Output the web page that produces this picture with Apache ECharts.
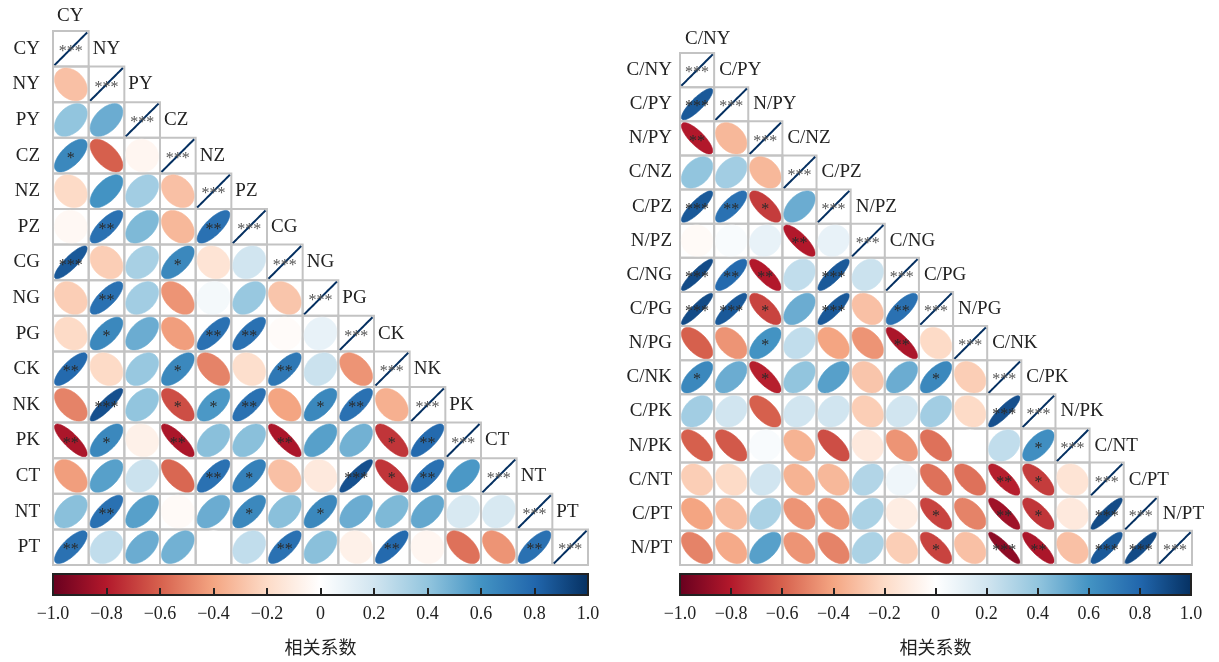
<!DOCTYPE html>
<html><head><meta charset="utf-8">
<script src="https://cdn.jsdelivr.net/npm/echarts@6/dist/echarts.min.js"></script>
<style>html,body{margin:0;padding:0;background:#fff}#c{width:1219px;height:662px}</style>
</head><body><div id="c"></div>
<script>
// ---------- data ----------
const leftVars = ['CY','NY','PY','CZ','NZ','PZ','CG','NG','PG','CK','NK','PK','CT','NT','PT'];
const leftCorr = [
  [1],
  [-0.30, 1],
  [0.40, 0.50, 1],
  [0.65, -0.60, -0.05, 1],
  [-0.20, 0.60, 0.35, -0.30, 1],
  [-0.04, 0.75, 0.45, -0.33, 0.75, 1],
  [0.85, -0.25, 0.33, 0.65, -0.15, 0.20, 1],
  [-0.25, 0.75, 0.35, -0.45, 0.05, 0.38, -0.28, 1],
  [-0.20, 0.65, 0.50, -0.42, 0.75, 0.75, -0.02, 0.10, 1],
  [0.78, -0.20, 0.38, 0.65, -0.50, -0.18, 0.72, 0.22, -0.45, 1],
  [-0.50, 0.88, 0.40, -0.65, 0.58, 0.75, -0.40, 0.65, 0.75, -0.36, 1],
  [-0.82, 0.65, -0.08, -0.82, 0.42, 0.42, -0.82, 0.55, 0.48, -0.72, 0.78, 1],
  [-0.42, 0.55, 0.22, -0.58, 0.75, 0.68, -0.30, -0.12, 0.88, -0.72, 0.75, 0.58, 1],
  [0.42, 0.75, 0.55, -0.03, 0.50, 0.65, 0.42, 0.65, 0.50, 0.45, 0.52, 0.17, 0.17, 1],
  [0.75, 0.25, 0.50, 0.48, 0.00, 0.25, 0.75, 0.42, -0.08, 0.78, -0.05, -0.55, -0.45, 0.75, 1]
];
const leftSig = [
  ['***'],
  ['','***'],
  ['','','***'],
  ['*','','','***'],
  ['','','','','***'],
  ['','**','','','**','***'],
  ['***','','','*','','','***'],
  ['','**','','','','','','***'],
  ['','*','','','**','**','','','***'],
  ['**','','','*','','','**','','','***'],
  ['','***','','*','*','**','','*','**','','***'],
  ['**','*','','**','','','**','','','*','**','***'],
  ['','','','','**','*','','','***','*','**','','***'],
  ['','**','','','','*','','*','','','','','','***'],
  ['**','','','','','','**','','','**','','','','**','***']
];
const rightVars = ['C/NY','C/PY','N/PY','C/NZ','C/PZ','N/PZ','C/NG','C/PG','N/PG','C/NK','C/PK','N/PK','C/NT','C/PT','N/PT'];
const rightCorr = [
  [1],
  [0.85, 1],
  [-0.80, -0.33, 1],
  [0.40, 0.35, -0.33, 1],
  [0.85, 0.75, -0.70, 0.50, 1],
  [-0.03, 0.03, 0.10, -0.80, 0.10, 1],
  [0.90, 0.78, -0.80, 0.25, 0.85, 0.22, 1],
  [0.90, 0.85, -0.68, 0.50, 0.85, -0.30, 0.75, 1],
  [-0.60, -0.45, 0.60, 0.25, -0.40, -0.45, -0.82, -0.20, 1],
  [0.65, 0.50, -0.78, 0.40, 0.55, -0.28, 0.50, 0.65, -0.25, 1],
  [0.35, 0.20, -0.60, 0.20, 0.20, -0.25, 0.20, 0.35, -0.20, 0.88, 1],
  [-0.60, -0.62, 0.03, -0.35, -0.65, -0.12, -0.45, -0.55, 0.00, 0.25, 0.62, 1],
  [-0.25, -0.20, 0.20, -0.35, -0.33, 0.30, 0.07, -0.55, -0.55, -0.78, -0.70, -0.15, 1],
  [-0.40, -0.32, 0.32, -0.45, -0.45, 0.32, -0.10, -0.68, -0.50, -0.85, -0.72, -0.12, 0.90, 1],
  [-0.50, -0.38, 0.55, -0.45, -0.50, 0.32, -0.25, -0.68, -0.30, -0.90, -0.82, -0.30, 0.85, 0.90, 1]
];
const rightSig = [
  ['***'],
  ['***','***'],
  ['**','','***'],
  ['','','','***'],
  ['***','**','*','','***'],
  ['','','','**','','***'],
  ['***','**','**','','***','','***'],
  ['***','***','*','','***','','**','***'],
  ['','','*','','','','**','','***'],
  ['*','','*','','','','','*','','***'],
  ['','','','','','','','','','***','***'],
  ['','','','','','','','','','','*','***'],
  ['','','','','','','','','','**','*','','***'],
  ['','','','','','','','*','','**','*','','***','***'],
  ['','','','','','','','*','','***','**','','***','***','***']
];
const colorbarTicks = [-1, -0.8, -0.6, -0.4, -0.2, 0, 0.2, 0.4, 0.6, 0.8, 1];
const legendName = '相关系数';
const palette = ['#67001F','#B2182B','#D6604D','#F4A582','#FDDBC7','#FFFFFF','#D1E5F0','#92C5DE','#4393C3','#2166AC','#053061'];

// ---------- build ----------
function flatten(corr, sig){
  const cells = [], stars = [];
  corr.forEach((row, i) => row.forEach((v, j) => { cells.push([j, i, v]); stars.push(sig[i][j]); }));
  return {cells, stars};
}
const L = flatten(leftCorr, leftSig);
const R = flatten(rightCorr, rightSig);
const SERIF = 'Liberation Serif, Times New Roman, serif';

function makeRender(vars, stars, headerOffset){
  return function(params, api){
    const col = api.value(0), row = api.value(1), r = api.value(2);
    const c = api.coord([col, row]);
    const s = api.size([1, 1]);
    const w = s[0], h = s[1];
    const rad = 0.46 * Math.min(w, h);
    const color = api.visual('color');
    const d = Math.acos(Math.max(-1, Math.min(1, r)));
    const pts = [];
    const N = 72;
    for (let k = 0; k < N; k++) {
      const t = 2 * Math.PI * k / N;
      pts.push([c[0] + Math.cos(t + d / 2) * rad, c[1] - Math.cos(t - d / 2) * rad]);
    }
    const diag = col === row;
    const children = [
      {type: 'rect', shape: {x: c[0] - w / 2, y: c[1] - h / 2, width: w, height: h},
       style: {fill: 'none', stroke: '#C3C3C3', lineWidth: 2}},
      {type: 'polygon', shape: {points: pts},
       style: {fill: color, stroke: color, lineWidth: diag ? 2 : 0.6}}
    ];
    const st = stars[params.dataIndex];
    if (st) {
      children.push({type: 'text', x: c[0], y: c[1] + 3,
        style: {text: st, fill: diag ? '#555' : '#2a2a2a', font: '16px ' + SERIF, align: 'center', verticalAlign: 'middle'}});
    }
    if (diag) {
      children.push({type: 'text', x: c[0] - w / 2 + headerOffset, y: c[1] - h + (col === 0 ? 3 : 0),
        style: {text: vars[col], fill: '#222', font: '19px ' + SERIF, align: 'left', verticalAlign: 'middle'}});
    }
    return {type: 'group', children};
  };
}

function colorbarRender(params, api){
  const p0 = api.coord([api.value(0), api.value(1)]);
  const p1 = api.coord([api.value(2), api.value(3)]);
  const stops = palette.map((col, i) => ({offset: i / (palette.length - 1), color: col}));
  return {type: 'rect',
    shape: {x: p0[0], y: p1[1], width: p1[0] - p0[0], height: p0[1] - p1[1]},
    style: {fill: new echarts.graphic.LinearGradient(0, 0, 1, 0, stops), stroke: '#222', lineWidth: 2}};
}

function fmtTick(v){
  if (Math.abs(v) < 1e-9) return '0';
  return (v < 0 ? '\u2212' : '') + Math.abs(v).toFixed(1);
}

const chart = echarts.init(document.getElementById('c'), null, {renderer: 'canvas'});
const catX = (data, gi) => ({type: 'category', gridIndex: gi, data, show: false, boundaryGap: true});
const catY = (data, gi, margin) => ({type: 'category', gridIndex: gi, data, inverse: true, boundaryGap: true,
  axisLine: {show: false}, axisTick: {show: false}, splitLine: {show: false},
  axisLabel: {show: true, margin, color: '#222', fontFamily: SERIF, fontSize: 19}});
const barX = (gi) => ({type: 'value', gridIndex: gi, min: -1, max: 1, interval: 0.2, z: 10,
  axisLine: {show: false}, splitLine: {show: false},
  axisTick: {show: true, inside: true, length: 7, lineStyle: {color: '#222', width: 2}},
  axisLabel: {margin: 10, color: '#222', fontFamily: SERIF, fontSize: 18, formatter: fmtTick},
  name: legendName, nameLocation: 'middle', nameGap: 43,
  nameTextStyle: {fontFamily: 'Noto Sans CJK SC', fontSize: 18, color: '#222'}});
const barY = (gi) => ({type: 'value', gridIndex: gi, min: 0, max: 1, show: false});

chart.setOption({
  animation: false,
  backgroundColor: '#fff',
  grid: [
    {left: 53, top: 31, width: 535, height: 534},
    {left: 680, top: 53, width: 512, height: 512},
    {left: 53, top: 574, width: 535, height: 21},
    {left: 680, top: 574, width: 511, height: 21}
  ],
  xAxis: [catX(leftVars, 0), catX(rightVars, 1), barX(2), barX(3)],
  yAxis: [catY(leftVars, 0, 13), catY(rightVars, 1, 8), barY(2), barY(3)],
  visualMap: {type: 'continuous', show: false, min: -1, max: 1, dimension: 2, seriesIndex: [0, 1],
    inRange: {color: palette}},
  series: [
    {type: 'custom', xAxisIndex: 0, yAxisIndex: 0, data: L.cells, renderItem: makeRender(leftVars, L.stars, 4), clip: false},
    {type: 'custom', xAxisIndex: 1, yAxisIndex: 1, data: R.cells, renderItem: makeRender(rightVars, R.stars, 5), clip: false},
    {type: 'custom', xAxisIndex: 2, yAxisIndex: 2, data: [[colorbarTicks[0], 0, colorbarTicks[colorbarTicks.length - 1], 1]],
      encode: {x: [0, 2], y: [1, 3]}, renderItem: colorbarRender},
    {type: 'custom', xAxisIndex: 3, yAxisIndex: 3, data: [[colorbarTicks[0], 0, colorbarTicks[colorbarTicks.length - 1], 1]],
      encode: {x: [0, 2], y: [1, 3]}, renderItem: colorbarRender}
  ]
});
</script></body></html>
